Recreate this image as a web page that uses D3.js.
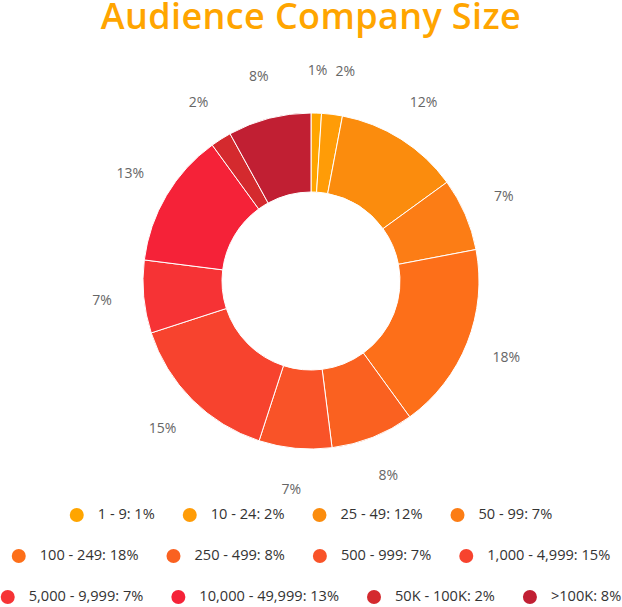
<!DOCTYPE html>
<html>
<head>
<meta charset="utf-8">
<script src="https://cdn.jsdelivr.net/npm/d3@7"></script>
<style>
  html, body { margin: 0; padding: 0; background: #fff; }
  svg { display: block; }
</style>
</head>
<body>
<svg id="chart" width="622" height="607"></svg>
<script>
const categories = ["1 - 9", "10 - 24", "25 - 49", "50 - 99", "100 - 249", "250 - 499", "500 - 999", "1,000 - 4,999", "5,000 - 9,999", "10,000 - 49,999", "50K - 100K", ">100K"];
const values = [1, 2, 12, 7, 18, 8, 7, 15, 7, 13, 2, 8];
const colors = ["#FFA500", "#FF9C07", "#FB8C0D", "#FC7D15", "#FD6F19", "#FA6120", "#F95328", "#F7432E", "#F63335", "#F52238", "#D42A2E", "#C11F33"];
const title = "Audience Company Size";

const svg = d3.select("#chart");
const cx = 311, cy = 281;
const outerR = 168, innerR = 89, labelR = 210;

const titleEl = svg.append("text")
  .attr("x", cx).attr("y", 29)
  .attr("text-anchor", "middle")
  .attr("font-family", "Open Sans, sans-serif")
  .attr("font-weight", 600)
  .attr("font-size", 33)
  .attr("fill", "#FFA500")
  .text(title);
const tl = titleEl.node().getComputedTextLength();
const fs = Math.max(30, Math.min(36, 33 * 420 / tl));
titleEl.attr("font-size", fs).attr("letter-spacing", 0);
const tl2 = titleEl.node().getComputedTextLength();
if (tl2 < 415) titleEl.attr("letter-spacing", (420 - tl2) / (title.length - 1));

const data = categories.map((c, i) => ({ cat: c, value: values[i], color: colors[i] }));
const pie = d3.pie().value(d => d.value).sort(null);
const arcs = pie(data);
const arc = d3.arc().innerRadius(innerR).outerRadius(outerR);
const labelArc = d3.arc().innerRadius(labelR).outerRadius(labelR);

const g = svg.append("g").attr("transform", `translate(${cx},${cy})`);
g.selectAll("path.slice").data(arcs).join("path")
  .attr("class", "slice")
  .attr("d", arc)
  .attr("fill", d => d.data.color)
  .attr("stroke", "#fff")
  .attr("stroke-width", 1);

const labels = g.selectAll("text.lbl").data(arcs).join("text")
  .attr("class", "lbl")
  .attr("text-anchor", "middle")
  .attr("dominant-baseline", "middle")
  .attr("font-family", "Open Sans, sans-serif")
  .attr("font-size", 14)
  .attr("fill", "#666")
  .text(d => d.data.value + "%");

// simple collision avoidance in the upper-right quadrant: push overlapping labels right
let prevRight = null, prevY = null;
labels.each(function(d) {
  const [x, y] = labelArc.centroid(d);
  const w = this.getComputedTextLength();
  const mid = (d.startAngle + d.endAngle) / 2;
  let nx = x;
  if (mid < Math.PI / 2) {
    if (prevRight !== null && Math.abs(y - prevY) < 14 && x - w / 2 < prevRight + 8) {
      nx = prevRight + 8 + w / 2;
    }
    prevRight = nx + w / 2; prevY = y;
  }
  d3.select(this).attr("transform", `translate(${nx},${y})`);
});

// Legend: 4 items per row, centered rows
const rows = [0, 1, 2].map(r => data.slice(r * 4, r * 4 + 4));
const rowY = [515, 556, 597];
const markerR = 7, textGap = 14, itemGap = 28;
const legend = svg.append("g");
rows.forEach((row, ri) => {
  const rg = legend.append("g");
  let x = 0;
  row.forEach(d => {
    const ig = rg.append("g").attr("transform", `translate(${x},0)`);
    ig.append("circle").attr("cx", markerR).attr("cy", 0).attr("r", markerR).attr("fill", d.color);
    const t = ig.append("text")
      .attr("x", markerR * 2 + textGap)
      .attr("y", 0)
      .attr("dominant-baseline", "middle")
      .attr("font-family", "Open Sans, sans-serif")
      .attr("font-size", 14.6)
      .attr("fill", "#333")
      .text(`${d.cat}: ${d.value}%`);
    const tw = t.node().getComputedTextLength();
    x += markerR * 2 + textGap + tw + itemGap;
  });
  const total = x - itemGap;
  rg.attr("transform", `translate(${cx - total / 2},${rowY[ri]})`);
});
</script>
</body>
</html>
